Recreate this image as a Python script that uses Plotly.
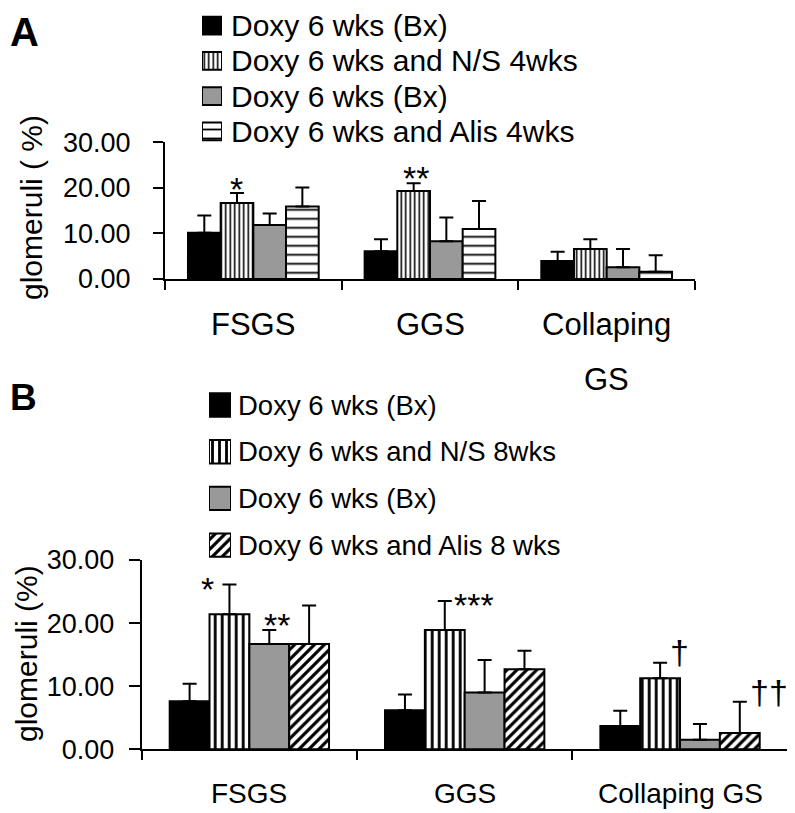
import plotly.graph_objects as go

# the page body adds an 8px margin, so the figure is 8px smaller and coordinates are page-based
OFF = 8
W, H = 795 - OFF, 813 - OFF

# ---------------- data ----------------
categories = ["FSGS", "GGS", "Collaping GS"]
cat_labels_A = ["FSGS", "GGS", "Collaping<br>GS"]
cat_labels_B = ["FSGS", "GGS", "Collaping GS"]

series_A = ["Doxy 6 wks (Bx)", "Doxy 6 wks and N/S 4wks", "Doxy 6 wks (Bx)", "Doxy 6 wks and Alis 4wks"]
series_B = ["Doxy 6 wks (Bx)", "Doxy 6 wks and N/S 8wks", "Doxy 6 wks (Bx)", "Doxy 6 wks and Alis 8 wks"]

# panel A (mean, upper error)
a_doxy = [10.15, 6.1, 3.95]
a_doxy_err = [3.8, 2.6, 2.05]
a_ns = [16.7, 19.3, 6.6]
a_ns_err = [2.2, 1.7, 2.1]
a_doxy2 = [11.85, 8.3, 2.6]
a_doxy2_err = [2.55, 5.2, 4.0]
a_alis = [15.9, 11.0, 1.6]
a_alis_err = [4.2, 6.1, 3.6]

# panel B
b_doxy = [7.6, 6.2, 3.7]
b_doxy_err = [2.8, 2.5, 2.4]
b_ns = [21.4, 18.9, 11.25]
b_ns_err = [4.7, 4.6, 2.45]
b_doxy2 = [16.7, 9.0, 1.5]
b_doxy2_err = [2.2, 5.15, 2.5]
b_alis = [16.7, 12.7, 2.6]
b_alis_err = [6.1, 2.9, 4.95]

y_tickvals = [0, 10, 20, 30]
y_ticktext = ["0.00", "10.00", "20.00", "30.00"]

# significance marks: (category index, series index, text)
sig_A = [(0, 1, "*"), (1, 1, "**")]
sig_B = [(0, 1, "*"), (0, 2, "**"), (1, 1, "***"), (2, 1, "†"), (2, 3, "††")]

# ---------------- styles ----------------
colors = ["black", "white", "#999999", "white"]
pat_A = [dict(shape=""), dict(shape="|", size=4.5, solidity=0.35), dict(shape=""), dict(shape="-", size=9, solidity=0.2)]
pat_B = [dict(shape=""), dict(shape="|", size=7, solidity=0.4), dict(shape=""), dict(shape="/", size=7, solidity=0.45)]

FONT_A = "Liberation Sans, Arial, sans-serif"
FONT_B = "Liberation Sans, Arial, sans-serif"
BARGAP = 0.26


def px(x):
    return (x - OFF) / W


def py(y):
    return 1 - (y - OFF) / H


def pattern(k, pats):
    p = dict(pats[k])
    if p["shape"]:
        p.update(fgcolor="black", bgcolor=colors[k], fillmode="replace")
    return p


fig = go.Figure()

vals_A = [a_doxy, a_ns, a_doxy2, a_alis]
errs_A = [a_doxy_err, a_ns_err, a_doxy2_err, a_alis_err]
vals_B = [b_doxy, b_ns, b_doxy2, b_alis]
errs_B = [b_doxy_err, b_ns_err, b_doxy2_err, b_alis_err]
cat_idx = list(range(len(categories)))


def add_series(names, vals, errs, pats, xa, ya):
    for k, (nm, v, e) in enumerate(zip(names, vals, errs)):
        fig.add_trace(go.Bar(
            x=cat_idx, y=v, name=nm, xaxis=xa, yaxis=ya, showlegend=False,
            marker=dict(color=colors[k], line=dict(color="black", width=2), pattern=pattern(k, pats)),
            error_y=dict(type="data", array=e, arrayminus=[0] * len(e), symmetric=False,
                         thickness=2, width=7, color="black"),
        ))


add_series(series_A, vals_A, errs_A, pat_A, "x", "y")
add_series(series_B, vals_B, errs_B, pat_B, "x2", "y2")


# legend swatches: one unit bar per series on hidden axes
def add_swatches(names, pats, xa, ya):
    for k, nm in enumerate(names):
        fig.add_trace(go.Bar(
            x=[1], y=[k], orientation="h", width=0.5, offset=-0.25, name=nm,
            xaxis=xa, yaxis=ya, showlegend=False, hoverinfo="skip",
            marker=dict(color=colors[k], line=dict(color="black", width=2), pattern=pattern(k, pats)),
        ))


add_swatches(series_A, pat_A, "x3", "y3")
add_swatches(series_B, pat_B, "x4", "y4")

axis_common = dict(showgrid=False, zeroline=False, showline=True, linecolor="black", linewidth=2,
                   ticks="outside", tickcolor="black", tickwidth=2)

layout = dict(
    width=W, height=H, margin=dict(l=0, r=0, t=0, b=0, autoexpand=False),
    paper_bgcolor="white", plot_bgcolor="rgba(0,0,0,0)",
    barmode="group", bargap=BARGAP, bargroupgap=0, showlegend=False,
    xaxis=dict(domain=[px(165), px(695)], range=[-0.5, 2.5], tickvals=[-0.5, 0.5, 1.5, 2.5],
               showticklabels=False, ticklen=9, anchor="y", **axis_common),
    yaxis=dict(domain=[py(279), py(142.3)], range=[0, 30], tickvals=y_tickvals, ticktext=y_ticktext,
               ticklen=10, ticklabelstandoff=17, anchor="x",
               tickfont=dict(family=FONT_A, size=27, color="black"), **axis_common),
    xaxis2=dict(domain=[px(141.7), px(787.7)], range=[-0.5, 2.5], tickvals=[-0.5, 0.5, 1.5, 2.5],
                showticklabels=False, ticklen=9, anchor="y2", **axis_common),
    yaxis2=dict(domain=[py(749.3), py(560)], range=[0, 30], tickvals=y_tickvals, ticktext=y_ticktext,
                ticklen=11, ticklabelstandoff=9, anchor="x2",
                tickfont=dict(family=FONT_B, size=27, color="black"), **axis_common),
    xaxis3=dict(domain=[px(202), px(222)], range=[0, 1], visible=False, anchor="y3"),
    yaxis3=dict(domain=[py(149), py(8)], range=[3.5, -0.5], visible=False, anchor="x3"),
    xaxis4=dict(domain=[px(209), px(231)], range=[0, 1], visible=False, anchor="y4"),
    yaxis4=dict(domain=[py(568.4), py(381.7)], range=[3.5, -0.5], visible=False, anchor="x4"),
)
fig.update_layout(**layout)

ann = []
# panel letters
ann.append(dict(text="<b>A</b>", x=0, y=1, xref="paper", yref="paper", xanchor="left", yanchor="top",
                showarrow=False, font=dict(family=FONT_A, size=40, color="black")))
ann.append(dict(text="<b>B</b>", x=0, y=py(397), xref="paper", yref="paper", xanchor="left", yanchor="middle",
                showarrow=False, font=dict(family=FONT_A, size=37, color="black")))
# y titles
ann.append(dict(text="glomeruli ( %)", x=px(31), y=py(208), xref="paper", yref="paper", textangle=-90,
                xanchor="center", yanchor="middle", showarrow=False,
                font=dict(family=FONT_A, size=30, color="black")))
ann.append(dict(text="glomeruli (%)", x=px(26), y=py(654), xref="paper", yref="paper", textangle=-90,
                xanchor="center", yanchor="middle", showarrow=False,
                font=dict(family=FONT_A, size=30, color="black")))
# category labels
for i, lab in enumerate(cat_labels_A):
    for j, line in enumerate(lab.split("<br>")):
        ann.append(dict(text=line, x=i, xref="x", y=py(324), yref="paper", yshift=-55 * j,
                        xanchor="center", yanchor="middle", showarrow=False,
                        font=dict(family=FONT_A, size=31, color="black")))
for i, lab in enumerate(cat_labels_B):
    ann.append(dict(text=lab, x=i, xref="x2", y=py(793), yref="paper",
                    xanchor="center", yanchor="middle", showarrow=False,
                    font=dict(family=FONT_B, size=28, color="black")))
# legend texts
for k, nm in enumerate(series_A):
    ann.append(dict(text=nm, x=px(229), xref="paper", y=k, yref="y3", xanchor="left", yanchor="middle",
                    showarrow=False, font=dict(family=FONT_A, size=30, color="black")))
for k, nm in enumerate(series_B):
    ann.append(dict(text=nm, x=px(236), xref="paper", y=k, yref="y4", xanchor="left", yanchor="middle",
                    showarrow=False, font=dict(family=FONT_B, size=27.5, color="black")))

# significance marks
bw = (1 - BARGAP) / 4
shifts_A = {(0, 1): (0, 3.5), (1, 1): (2, 5)}
shifts_B = {(0, 1): (-22, -4), (0, 2): (8, 5), (1, 1): (29, -4), (2, 1): (19, 11), (2, 3): (29.5, 10)}
for (c, s, t) in sig_A:
    dx, dy = shifts_A[(c, s)]
    ann.append(dict(text=t, x=c + (s - 1.5) * bw, xref="x", y=vals_A[s][c] + errs_A[s][c], yref="y",
                    xshift=dx, yshift=dy, xanchor="center", yanchor="middle", showarrow=False,
                    font=dict(family=FONT_A, size=34, color="black")))
for (c, s, t) in sig_B:
    dx, dy = shifts_B[(c, s)]
    ann.append(dict(text=t, x=c + (s - 1.5) * bw, xref="x2", y=vals_B[s][c] + errs_B[s][c], yref="y2",
                    xshift=dx, yshift=dy, xanchor="center", yanchor="middle", showarrow=False,
                    font=dict(family=FONT_A, size=34, color="black")))

fig.update_layout(annotations=ann)
fig.write_html("out.html")
